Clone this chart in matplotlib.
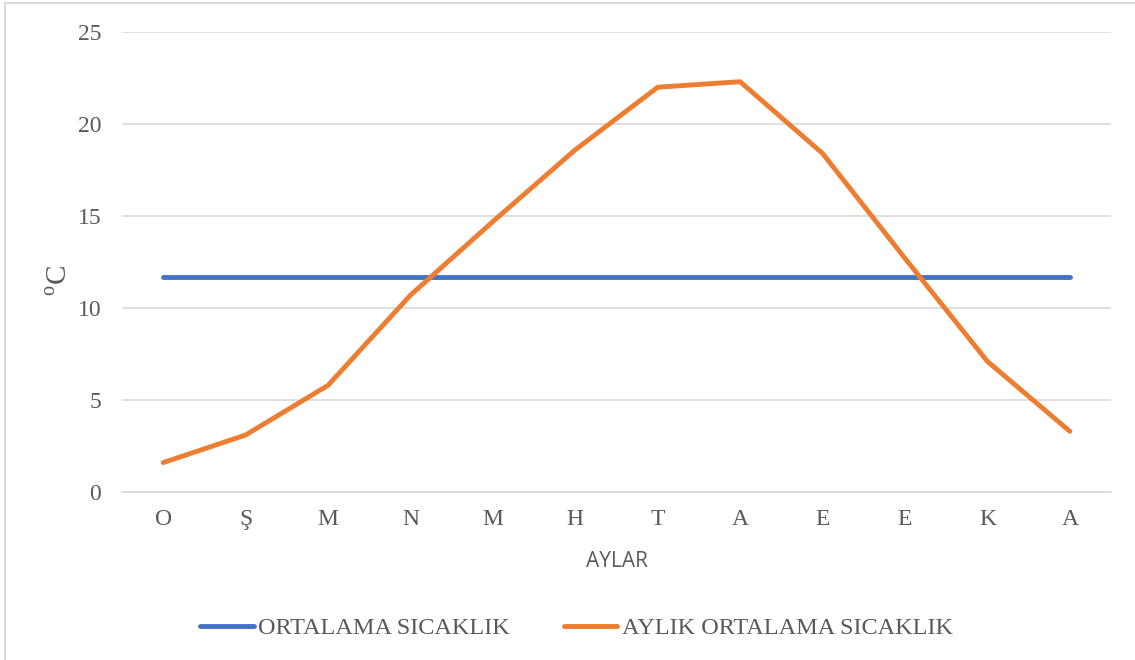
import matplotlib.pyplot as plt
from matplotlib.patches import Rectangle

months = ["O", "Ş", "M", "N", "M", "H", "T", "A", "E", "E", "K", "A"]
monthly_avg = [1.6, 3.1, 5.8, 10.7, 14.7, 18.6, 22.0, 22.3, 18.4, 12.7, 7.1, 3.3]
annual_avg = [11.7] * 12
yticks = [0, 5, 10, 15, 20, 25]

plt.rcParams['mathtext.fontset'] = 'custom'
plt.rcParams['mathtext.rm'] = 'Liberation Serif'

gray = "#595959"
fig = plt.figure(figsize=(11.35, 6.6), dpi=100)
ax = fig.add_axes([0.1075, 0.2545, 0.8714, 0.697])

x = list(range(len(months)))
ax.plot(x, annual_avg, color="#4472C4", lw=3.5, solid_capstyle="round", label="ORTALAMA SICAKLIK")
ax.plot(x, monthly_avg, color="#ED7D31", lw=3.5, solid_capstyle="round", label="AYLIK ORTALAMA SICAKLIK")

ax.set_xlim(-0.5, 11.5)
ax.set_ylim(0, 25)
ax.set_yticks(yticks)
ax.set_xticks(x)
ax.set_xticklabels(months)
ax.grid(axis="y", color="#d9d9d9", lw=1.2)
ax.set_axisbelow(True)
for s in ["top", "right", "left"]:
    ax.spines[s].set_visible(False)
ax.spines["bottom"].set_color("#d9d9d9")
ax.spines["bottom"].set_linewidth(1.2)
ax.tick_params(length=0, labelsize=17, labelcolor=gray)
for t in ax.get_xticklabels() + ax.get_yticklabels():
    t.set_family("Liberation Serif")
ax.tick_params(axis="x", pad=12)
ax.tick_params(axis="y", pad=15)

ax.set_xlabel("AYLAR", family="Open Sans", fontsize=15, color=gray, labelpad=15)
ax.set_ylabel(r"$^{\mathrm{o}}$C", family="Liberation Serif", fontsize=21, color=gray)
ax.yaxis.set_label_coords(-0.05, 0.46)

leg = fig.legend(loc="center", bbox_to_anchor=(0.508, 0.048), ncol=2, frameon=False,
                 prop={"family": "Liberation Serif", "size": 17.5}, handlelength=2.2,
                 handletextpad=0.2, columnspacing=2.2)
for t in leg.get_texts():
    t.set_color(gray)

fig.add_artist(Rectangle((0.0045, -0.05), 1.2, 1.045, transform=fig.transFigure,
                         fill=False, edgecolor="#d9d9d9", lw=1.5))

fig.savefig("out.png", dpi=100)
